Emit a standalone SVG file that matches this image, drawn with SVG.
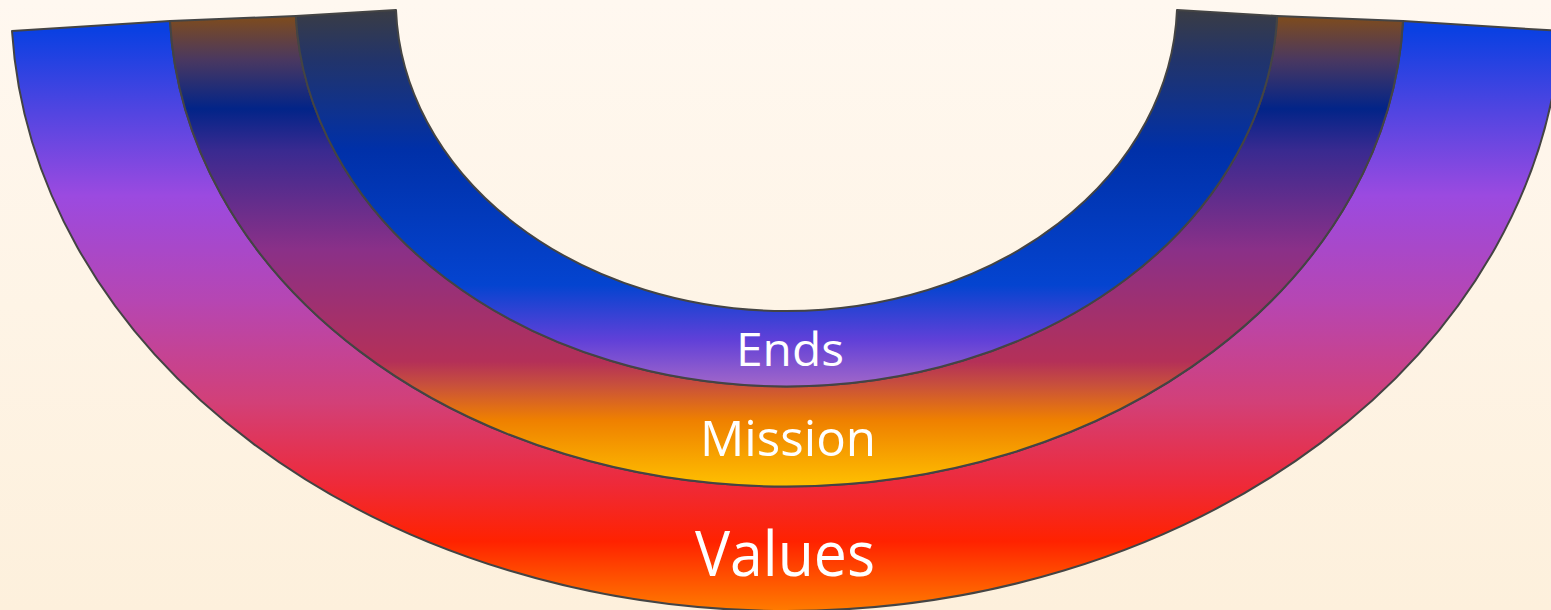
<svg xmlns="http://www.w3.org/2000/svg" width="1551" height="610" viewBox="0 0 1551 610">
  <defs>
    <linearGradient id="bg" x1="0" y1="0" x2="0" y2="1">
      <stop offset="0" stop-color="#fff8f0"/>
      <stop offset="1" stop-color="#fdf0dc"/>
    </linearGradient>
    <linearGradient id="gValues" gradientUnits="userSpaceOnUse" x1="0" y1="30" x2="0" y2="611">
      <stop offset="0" stop-color="#0a40e2"/>
      <stop offset="0.285" stop-color="#9b4ae0"/>
      <stop offset="0.467" stop-color="#b646b2"/>
      <stop offset="0.64" stop-color="#d24078"/>
      <stop offset="0.78" stop-color="#ee2a3a"/>
      <stop offset="0.88" stop-color="#ff2200"/>
      <stop offset="1" stop-color="#ff7c00"/>
    </linearGradient>
    <linearGradient id="gMission" gradientUnits="userSpaceOnUse" x1="0" y1="20" x2="0" y2="488">
      <stop offset="0" stop-color="#7a4a22"/>
      <stop offset="0.085" stop-color="#4a3860"/>
      <stop offset="0.19" stop-color="#022488"/>
      <stop offset="0.28" stop-color="#3a2a90"/>
      <stop offset="0.49" stop-color="#8a3088"/>
      <stop offset="0.73" stop-color="#b43058"/>
      <stop offset="0.78" stop-color="#c8503c"/>
      <stop offset="0.855" stop-color="#ef8000"/>
      <stop offset="1" stop-color="#ffc200"/>
    </linearGradient>
    <linearGradient id="gEnds" gradientUnits="userSpaceOnUse" x1="0" y1="10" x2="0" y2="387">
      <stop offset="0" stop-color="#3a3c44"/>
      <stop offset="0.13" stop-color="#22346a"/>
      <stop offset="0.37" stop-color="#0030a8"/>
      <stop offset="0.73" stop-color="#0444d0"/>
      <stop offset="0.875" stop-color="#6040d8"/>
      <stop offset="1" stop-color="#a468c8"/>
    </linearGradient>
  </defs>
  <style>
    .band { stroke: #444444; stroke-width: 2; stroke-linejoin: round; }
    .label { fill: #ffffff; font-family: "Open Sans", "DejaVu Sans", sans-serif; text-anchor: middle; }
  </style>
  <rect x="0" y="0" width="1551" height="610" fill="url(#bg)"/>
  <g id="connectors"/>
  <g id="values">
    <path class="band" fill="url(#gValues)" d="M 12 31 A 775.5 611 0 0 0 1561 31 L 1403 21 A 617.1 487 0 0 1 170 21 Z"/>
    <text class="label" x="785" y="576" font-size="62" textLength="180" lengthAdjust="spacingAndGlyphs">Values</text>
  </g>
  <g id="mission">
    <path class="band" fill="url(#gMission)" d="M 170 21 A 617.1 487 0 0 0 1403 21 L 1277.1 16 A 491 386 0 0 1 295.9 16 Z"/>
    <text class="label" x="788" y="456" font-size="50" textLength="176" lengthAdjust="spacingAndGlyphs">Mission</text>
  </g>
  <g id="ends">
    <path class="band" fill="url(#gEnds)" d="M 295.9 16 A 491 386 0 0 0 1277.1 16 L 1177 10 A 390.7 311 0 0 1 396 10 Z"/>
    <text class="label" x="790" y="366" font-size="46" textLength="108" lengthAdjust="spacingAndGlyphs">Ends</text>
  </g>
</svg>
